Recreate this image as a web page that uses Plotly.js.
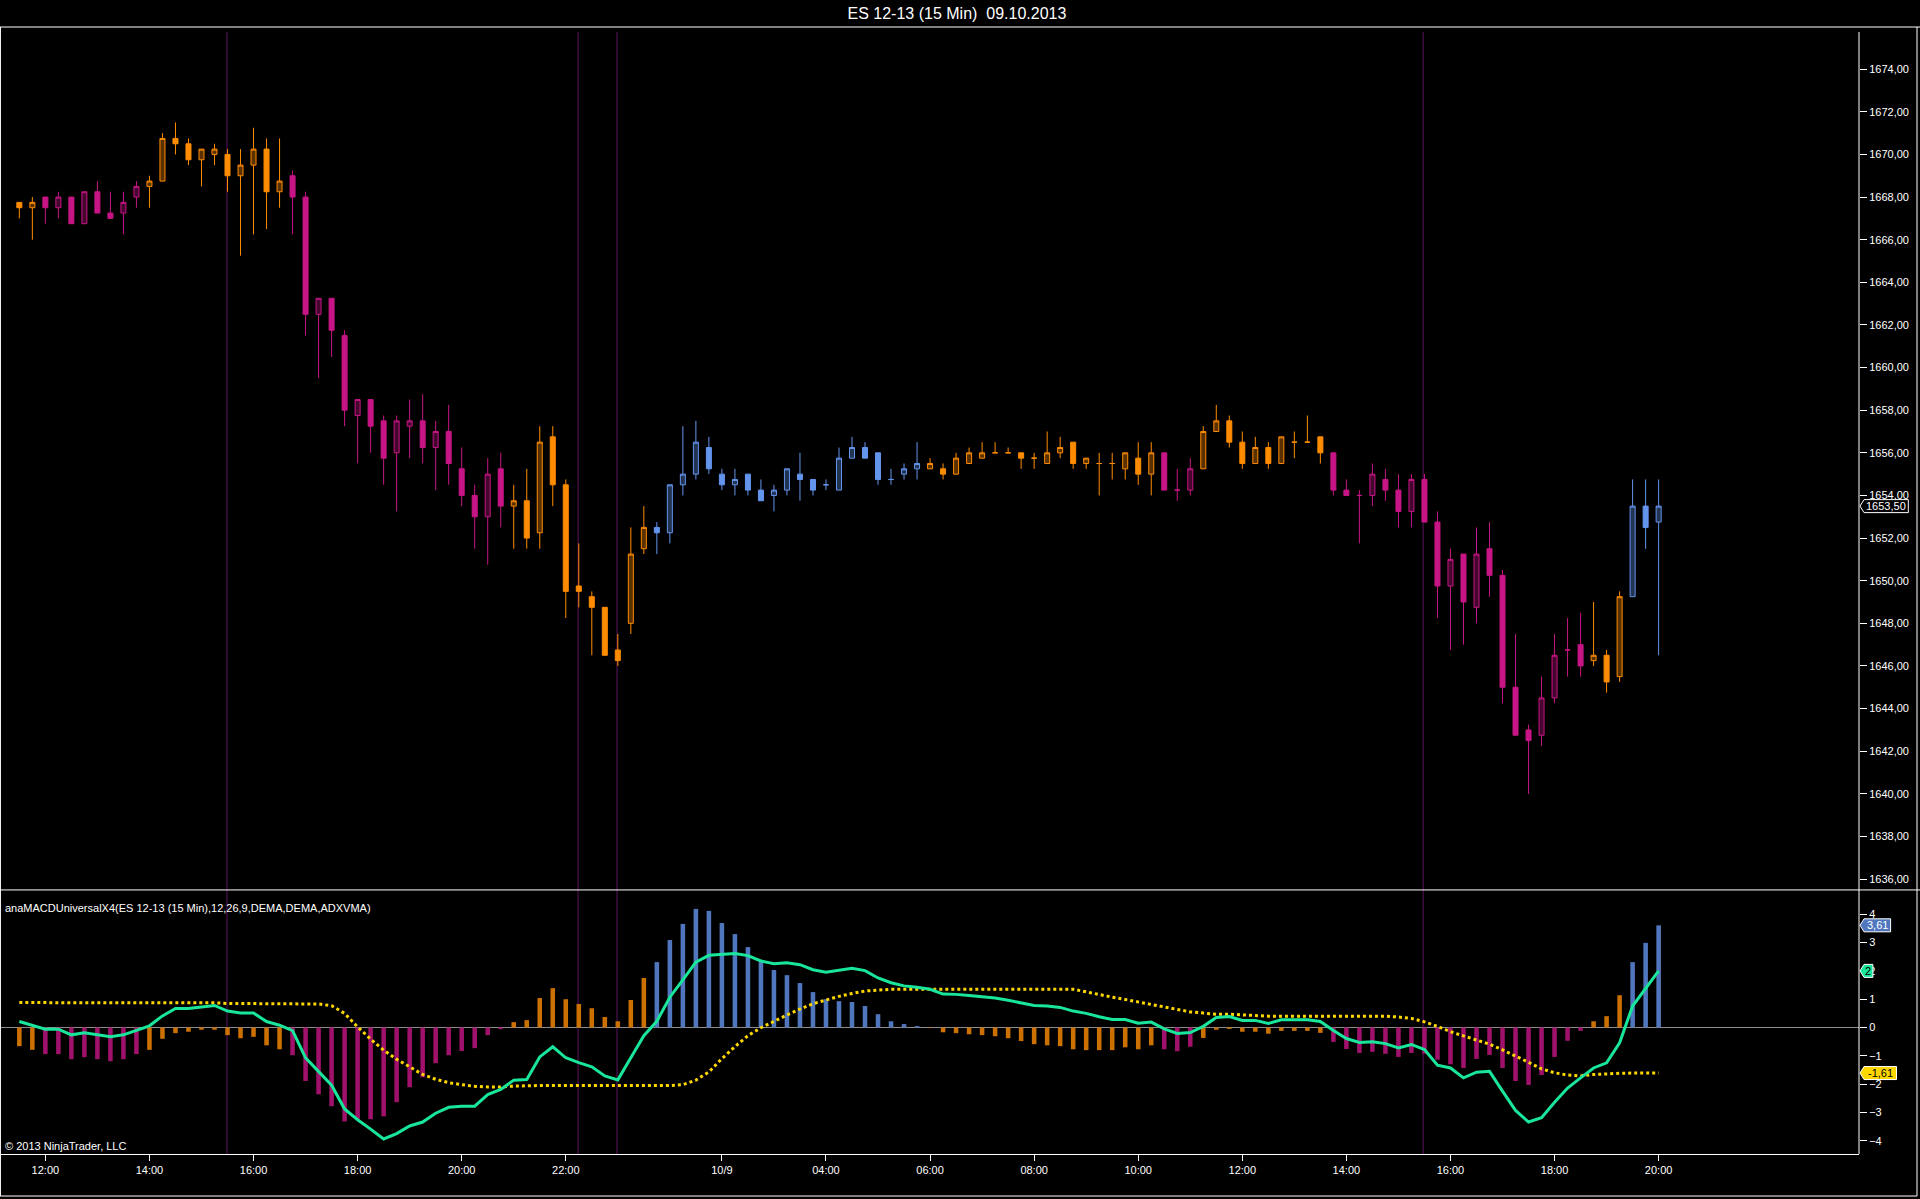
<!DOCTYPE html>
<html>
<head>
<meta charset="utf-8">
<script src="https://cdn.plot.ly/plotly-3.0.1.min.js"></script>
<style>
html,body{margin:0;padding:0;background:#000;}
#chart{width:1920px;height:1199px;}
</style>
</head>
<body>
<div id="chart"></div>
<script>
// ---------- DATA ----------
const chartTitle = 'ES 12-13 (15 Min)\u00a0 09.10.2013';
const indicatorLabel = 'anaMACDUniversalX4(ES 12-13 (15 Min),12,26,9,DEMA,DEMA,ADXVMA)';
const copyrightText = '\u00a9 2013 NinjaTrader, LLC';

// x tick labels (bar index -> label)
const tickIdx = [2,10,18,26,34,42,54,62,70,78,86,94,102,110,118,126];
const tickText = ['12:00','14:00','16:00','18:00','20:00','22:00','10/9','04:00','06:00','08:00','10:00','12:00','14:00','16:00','18:00','20:00'];

// session separator lines (bar index)
const sessionBreaks = [15.96, 42.95, 45.94, 107.9];

const barOpen = [
 1667.75,1667.5,1668.0,1667.5,1668.0,1666.75,1668.25,1667.25,1667.25,1668.0,
 1668.5,1668.75,1670.75,1670.5,1669.75,1670.0,1670.0,1669.0,1669.5,1670.25,
 1668.25,1669.0,1668.0,1662.5,1663.25,1661.5,1657.75,1658.5,1657.5,1656.0,
 1657.25,1657.5,1656.25,1657.0,1655.25,1654.0,1653.0,1655.25,1653.5,1653.75,
 1652.25,1656.75,1654.5,1649.75,1649.25,1648.75,1646.75,1648.0,1651.5,1652.5,
 1652.25,1654.5,1655.0,1656.25,1655.0,1654.5,1655.0,1654.25,1654.0,1654.25,
 1655.0,1654.75,1654.5,1654.25,1655.75,1656.25,1656.0,1654.75,1655.0,1655.25,
 1655.25,1655.25,1655.0,1655.5,1655.75,1656.0,1656.0,1656.0,1655.75,1655.5,
 1656.0,1656.5,1655.5,1655.5,1655.5,1655.25,1655.75,1655.0,1656.0,1654.25,
 1654.25,1655.25,1657.0,1657.5,1656.5,1655.5,1656.25,1655.5,1656.5,1656.5,
 1656.75,1656.0,1654.25,1654.0,1654.0,1654.75,1654.25,1653.25,1654.75,1652.75,
 1649.75,1651.25,1648.75,1651.5,1650.25,1645.0,1643.0,1642.75,1644.5,1646.75,
 1647.0,1646.25,1646.5,1645.5,1649.25,1653.5,1652.75
];
const barHigh = [
 1667.75,1668.0,1668.0,1668.25,1668.0,1668.25,1668.75,1668.25,1668.25,1668.75,
 1669.0,1671.0,1671.5,1670.75,1670.25,1670.5,1670.25,1670.25,1671.25,1670.75,
 1670.75,1669.25,1668.25,1663.25,1663.25,1661.75,1658.5,1658.5,1657.75,1657.75,
 1658.5,1658.75,1657.5,1658.25,1656.25,1654.5,1655.75,1656.0,1654.5,1655.25,
 1657.25,1657.25,1654.75,1651.75,1649.5,1648.75,1647.5,1652.5,1653.5,1652.75,
 1654.5,1657.25,1657.5,1656.75,1655.25,1655.25,1655.0,1654.75,1654.5,1655.25,
 1656.0,1654.75,1654.75,1656.25,1656.75,1656.5,1656.0,1655.25,1655.5,1656.5,
 1655.75,1655.5,1656.0,1656.25,1656.5,1656.5,1656.25,1656.0,1656.0,1657.0,
 1656.75,1656.5,1655.75,1656.0,1656.0,1656.0,1656.5,1656.5,1656.0,1655.25,
 1655.75,1657.25,1658.25,1657.75,1657.0,1656.75,1656.5,1656.75,1657.0,1657.75,
 1656.75,1656.0,1654.75,1654.25,1655.5,1655.25,1655.0,1655.0,1655.0,1653.25,
 1651.5,1651.25,1652.5,1652.75,1650.5,1647.5,1643.25,1645.5,1647.5,1648.25,
 1648.5,1649.0,1646.75,1649.5,1654.75,1654.75,1654.75
];
const barLow = [
 1667.0,1666.0,1666.75,1667.0,1666.75,1666.75,1667.25,1667.0,1666.25,1667.5,
 1667.5,1668.75,1670.0,1669.5,1668.5,1669.5,1668.25,1665.25,1666.25,1666.5,
 1667.5,1666.25,1661.5,1659.5,1660.5,1657.25,1655.5,1656.0,1654.5,1653.25,
 1655.75,1655.5,1654.25,1654.5,1653.5,1651.5,1650.75,1652.5,1651.5,1651.5,
 1651.5,1653.5,1648.25,1648.75,1646.5,1646.5,1646.0,1647.5,1651.25,1651.25,
 1651.75,1654.0,1654.75,1655.0,1654.25,1654.0,1654.0,1653.75,1653.25,1654.0,
 1653.75,1654.0,1654.25,1654.25,1655.75,1655.75,1654.5,1654.5,1654.75,1654.75,
 1655.25,1654.75,1655.0,1655.5,1655.75,1656.0,1656.0,1655.25,1655.25,1655.5,
 1655.75,1655.25,1655.25,1654.0,1654.75,1654.75,1654.5,1654.0,1654.25,1653.75,
 1654.0,1655.25,1657.0,1656.25,1655.25,1655.5,1655.25,1655.5,1655.75,1656.5,
 1655.5,1654.0,1654.0,1651.75,1653.5,1653.75,1652.5,1652.5,1652.75,1648.25,
 1646.75,1647.0,1648.0,1649.25,1644.25,1642.75,1640.0,1642.25,1644.25,1645.5,
 1645.5,1646.0,1644.75,1645.25,1649.25,1651.5,1646.5
];
const barClose = [
 1667.5,1667.75,1667.5,1668.0,1666.75,1668.25,1667.25,1667.0,1667.75,1668.5,
 1668.75,1670.75,1670.5,1669.75,1670.25,1670.25,1669.0,1669.5,1670.25,1668.25,
 1668.75,1668.0,1662.5,1663.25,1661.75,1658.0,1658.5,1657.25,1655.75,1657.5,
 1657.5,1656.25,1657.0,1655.5,1654.0,1653.0,1655.0,1653.5,1653.75,1652.0,
 1656.5,1654.5,1649.5,1649.5,1648.75,1646.5,1646.25,1651.25,1652.5,1652.25,
 1654.5,1655.0,1656.5,1655.25,1654.5,1654.75,1654.25,1653.75,1654.25,1655.25,
 1654.75,1654.25,1654.5,1655.75,1656.25,1655.75,1654.75,1654.75,1655.25,1655.5,
 1655.5,1655.0,1655.75,1656.0,1656.0,1656.0,1656.0,1655.75,1655.75,1656.0,
 1656.25,1655.5,1655.75,1655.5,1655.5,1656.0,1655.0,1656.0,1654.25,1654.25,
 1655.25,1657.0,1657.5,1656.5,1655.5,1656.25,1655.5,1656.75,1656.5,1656.5,
 1656.0,1654.25,1654.0,1654.0,1655.0,1654.25,1653.25,1654.75,1652.75,1649.75,
 1651.0,1649.0,1651.25,1650.25,1645.0,1642.75,1642.5,1644.5,1646.5,1646.75,
 1646.0,1646.5,1645.25,1649.25,1653.5,1652.5,1653.5
];
// trend colour state per bar: o = orange, m = magenta, b = blue
const barColor = [
 'o','o','m','m','m','m','m','m','m','m',
 'o','o','o','o','o','o','o','o','o','o',
 'o','m','m','m','m','m','m','m','m','m',
 'm','m','m','m','m','m','m','m','o','o',
 'o','o','o','o','o','o','o','o','o','b',
 'b','b','b','b','b','b','b','b','b','b',
 'b','b','b','b','b','b','b','b','b','b',
 'o','o','o','o','o','o','o','o','o','o',
 'o','o','o','o','o','o','o','o','m','m',
 'm','o','o','o','o','o','o','o','o','o',
 'o','m','m','m','m','m','m','m','m','m',
 'm','m','m','m','m','m','m','m','m','m',
 'm','o','o','o','b','b','b'
];
const macdHist = [
 -0.66,-0.79,-0.94,-0.94,-1.12,-1.05,-1.12,-1.19,-1.12,-0.94,
 -0.79,-0.40,-0.20,-0.15,-0.08,-0.08,-0.27,-0.38,-0.33,-0.63,
 -0.77,-0.98,-1.89,-2.36,-2.78,-3.32,-3.24,-3.24,-3.14,-2.64,
 -2.11,-1.76,-1.26,-0.98,-0.83,-0.73,-0.27,-0.06,0.19,0.26,
 1.04,1.39,1.00,0.83,0.68,0.37,0.22,0.97,1.75,2.31,
 3.09,3.66,4.19,4.12,3.69,3.30,2.84,2.31,2.03,1.85,
 1.57,1.25,1.00,0.93,0.90,0.76,0.47,0.22,0.12,0.05,
 -0.02,-0.17,-0.20,-0.24,-0.27,-0.31,-0.38,-0.48,-0.59,-0.63,
 -0.66,-0.77,-0.80,-0.80,-0.80,-0.70,-0.77,-0.63,-0.77,-0.84,
 -0.68,-0.37,-0.08,-0.05,-0.15,-0.15,-0.22,-0.12,-0.12,-0.12,
 -0.19,-0.51,-0.76,-0.90,-0.86,-0.93,-1.04,-0.90,-0.93,-1.14,
 -1.30,-1.43,-1.11,-0.97,-1.43,-1.89,-2.03,-1.68,-1.04,-0.47,
 -0.12,0.22,0.40,1.14,2.31,2.99,3.61
];
const macdLine = [
 0.21,0.08,-0.06,-0.06,-0.26,-0.19,-0.26,-0.33,-0.26,-0.11,
 0.06,0.41,0.67,0.67,0.73,0.78,0.58,0.51,0.51,0.21,
 0.08,-0.11,-1.07,-1.55,-2.04,-2.88,-3.26,-3.59,-3.94,-3.75,
 -3.48,-3.34,-3.03,-2.82,-2.78,-2.78,-2.37,-2.19,-1.86,-1.84,
 -1.04,-0.68,-1.07,-1.24,-1.39,-1.71,-1.85,-1.07,-0.29,0.22,
 1.07,1.68,2.31,2.55,2.57,2.61,2.54,2.35,2.25,2.29,
 2.22,2.04,1.95,2.02,2.09,2.01,1.75,1.58,1.47,1.42,
 1.35,1.18,1.17,1.13,1.09,1.04,0.96,0.86,0.78,0.76,
 0.71,0.58,0.50,0.38,0.28,0.28,0.15,0.19,-0.05,-0.21,
 -0.18,0.04,0.35,0.39,0.25,0.25,0.14,0.27,0.27,0.27,
 0.21,-0.11,-0.39,-0.53,-0.50,-0.57,-0.72,-0.60,-0.78,-1.33,
 -1.43,-1.78,-1.58,-1.55,-2.25,-2.93,-3.34,-3.19,-2.64,-2.14,
 -1.78,-1.43,-1.25,-0.54,0.76,1.36,2.00
];
const signalLine = [
 0.88,0.88,0.88,0.88,0.88,0.88,0.88,0.88,0.88,0.88,
 0.87,0.87,0.87,0.87,0.87,0.87,0.85,0.85,0.85,0.85,
 0.85,0.85,0.85,0.83,0.77,0.50,0.02,-0.41,-0.80,-1.12,
 -1.39,-1.66,-1.83,-1.95,-2.02,-2.08,-2.10,-2.10,-2.07,-2.05,
 -2.05,-2.05,-2.05,-2.05,-2.05,-2.05,-2.05,-2.05,-2.05,-2.05,
 -2.05,-2.02,-1.86,-1.57,-1.10,-0.68,-0.29,-0.01,0.22,0.44,
 0.65,0.84,0.97,1.10,1.20,1.29,1.32,1.35,1.35,1.35,
 1.35,1.35,1.35,1.35,1.35,1.35,1.35,1.35,1.35,1.35,
 1.35,1.35,1.26,1.16,1.07,0.99,0.90,0.80,0.72,0.63,
 0.55,0.51,0.47,0.47,0.45,0.41,0.40,0.40,0.40,0.40,
 0.40,0.40,0.40,0.40,0.40,0.40,0.37,0.32,0.20,0.04,
 -0.15,-0.29,-0.45,-0.59,-0.79,-1.00,-1.23,-1.46,-1.60,-1.68,
 -1.71,-1.66,-1.63,-1.62,-1.61,-1.61,-1.61
];

// ---------- STYLE ----------
const palette = {
  o: {line:'#ff8c00', hollow:'#593100', hist:'#cc7000'},
  m: {line:'#c71585', hollow:'#46072f', hist:'#9f116a'},
  b: {line:'#6495ed', hollow:'#233453', hist:'#5077be'}
};
const FONT = '"Liberation Sans", Arial, Helvetica, sans-serif';
const idx = barOpen.map((_, i) => i);

const traces = [];
['o','m','b'].forEach(k => {
  const sel = idx.filter(i => barColor[i] === k);
  traces.push({
    type:'candlestick', xaxis:'x', yaxis:'y',
    x: sel,
    open: sel.map(i => barOpen[i]),
    high: sel.map(i => barHigh[i]),
    low: sel.map(i => barLow[i]),
    close: sel.map(i => barClose[i]),
    increasing: {line:{color:palette[k].line, width:1}, fillcolor:palette[k].hollow},
    decreasing: {line:{color:palette[k].line, width:1}, fillcolor:palette[k].line},
    whiskerwidth: 0,
    hoverinfo: 'skip'
  });
});
traces.push({
  type:'bar', xaxis:'x', yaxis:'y2',
  x: idx, y: macdHist, width: 0.35,
  marker: {color: barColor.map(k => palette[k].hist), line:{width:0}},
  hoverinfo:'skip'
});
traces.push({
  type:'scatter', mode:'lines', xaxis:'x', yaxis:'y2',
  x: idx, y: signalLine,
  line: {color:'#ffd700', width:3, dash:'dot'},
  hoverinfo:'skip'
});
traces.push({
  type:'scatter', mode:'lines', xaxis:'x', yaxis:'y2',
  x: idx, y: macdLine,
  line: {color:'#19e69b', width:3},
  hoverinfo:'skip'
});

function fmt(v, keepZeros) {
  let s = v.toFixed(2).replace('.', ',');
  if (!keepZeros && s.endsWith(',00')) s = s.slice(0, -3);
  return s;
}
const last = barClose.length - 1;

// geometry
const W = 1920, H = 1199, M = {l:1, r:61, t:27, b:45};
const plotW = W - M.l - M.r, plotH = H - M.t - M.b;
const splitY = 0.2343;
const priceRange = [1635.49, 1675.98];
const indRange = [-4.47, 4.86];
const pxPerPrice = plotH * (1 - splitY) / (priceRange[1] - priceRange[0]);
const pxPerInd = plotH * splitY / (indRange[1] - indRange[0]);
const px2paperX = p => p / plotW;
const px2paperY = p => p / plotH;

const shapes = [];
sessionBreaks.forEach(s => shapes.push({
  type:'line', xref:'x', yref:'paper', x0:s, x1:s, y0:0, y1:1 - px2paperY(5),
  line:{color:'#3f0d40', width:1.5}, layer:'below'
}));
// frame lines
const frame = (x0,y0,x1,y1) => ({type:'line', xref:'paper', yref:'paper', x0, y0, x1, y1, line:{color:'#ffffff', width:1}, layer:'above'});
const rightEdge = 1 + px2paperX(W - 3 - (W - M.r));
const bottomEdge = -px2paperY(M.b - 3);
shapes.push(frame(-0.001, 1, 1.04, 1));
shapes.push(frame(-0.001, splitY, 1.04, splitY));
shapes.push(frame(-0.0003, bottomEdge, -0.0003, 1));
shapes.push(frame(rightEdge, bottomEdge, rightEdge, 1));
shapes.push(frame(-0.001, bottomEdge, rightEdge, bottomEdge));
// right value axis line (starts a little below the top frame)
shapes.push(frame(1, 0, 1, 1 - px2paperY(5)));

const annotations = [
  {xref:'paper', yref:'paper', x:0.001, y:0.2183, xanchor:'left', yanchor:'middle', showarrow:false,
   text:indicatorLabel, font:{family:FONT, size:11, color:'#ffffff'}},
  {xref:'paper', yref:'paper', x:0.001, y:0.0068, xanchor:'left', yanchor:'middle', showarrow:false,
   text:copyrightText, font:{family:FONT, size:11, color:'#ffffff'}}
];

// value tags (pointed boxes at the right axis)
function addTag(v, yref, text, bg, fg) {
  const ppu = yref === 'y' ? pxPerPrice : pxPerInd;
  const hh = 6.5 / ppu;
  const wpx = 8 + 5.9 * text.length;
  const xa = 1 + px2paperX(1), xb = 1 + px2paperX(5), xc = 1 + px2paperX(wpx);
  shapes.push({
    type:'path', xref:'paper', yref,
    path:`M ${xa} ${v} L ${xb} ${v + hh} L ${xc} ${v + hh} L ${xc} ${v - hh} L ${xb} ${v - hh} Z`,
    fillcolor:bg, line:{color:'#ffffff', width:1}, layer:'above'
  });
  annotations.push({
    xref:'paper', yref, x:(xb + xc) / 2, xanchor:'center', y:v, yanchor:'middle',
    text, showarrow:false, font:{family:FONT, size:11, color:fg}
  });
}
addTag(barClose[last], 'y', fmt(barClose[last], true), '#000000', '#ffffff');
addTag(macdHist[last], 'y2', fmt(macdHist[last]), palette.b.hist, '#ffffff');
addTag(macdLine[last], 'y2', fmt(macdLine[last]), '#19e69b', '#000000');
addTag(signalLine[last], 'y2', fmt(signalLine[last]), '#ffd700', '#000000');

const layout = {
  width:W, height:H,
  paper_bgcolor:'#000000', plot_bgcolor:'#000000',
  margin:{l:M.l, r:M.r, t:M.t, b:M.b, pad:0},
  separators:',.',
  showlegend:false, hovermode:false, dragmode:false,
  font:{family:FONT, color:'#ffffff', size:11},
  title:{text:chartTitle, font:{family:FONT, size:16, color:'#ffffff'},
         xref:'container', x:0.4984, xanchor:'center',
         yref:'container', y:1 - 13/1199, yanchor:'middle'},
  boxgap:0.45, boxgroupgap:0.3,
  xaxis:{
    anchor:'y2', range:[-1.41, 141.4],
    tickmode:'array', tickvals:tickIdx, ticktext:tickText,
    ticks:'outside', ticklen:6, tickcolor:'#ffffff', tickwidth:1,
    showline:true, linecolor:'#ffffff', linewidth:1,
    showgrid:false, zeroline:false,
    tickfont:{family:FONT, size:11, color:'#ffffff'},
    rangeslider:{visible:false}, fixedrange:true
  },
  yaxis:{
    domain:[splitY, 1], anchor:'x', side:'right',
    range:priceRange, tick0:1636, dtick:2, tickformat:'.2f',
    ticks:'outside', ticklen:7, tickcolor:'#ffffff',
    showline:false,
    showgrid:false, zeroline:false,
    tickfont:{family:FONT, size:11, color:'#ffffff'}, fixedrange:true
  },
  yaxis2:{
    domain:[0, splitY], anchor:'x', side:'right',
    range:indRange, tick0:0, dtick:1,
    ticks:'outside', ticklen:7, tickcolor:'#ffffff',
    showline:false,
    showgrid:false, zeroline:true, zerolinecolor:'#8c8c8c', zerolinewidth:1,
    tickfont:{family:FONT, size:11, color:'#ffffff'}, fixedrange:true
  },
  shapes, annotations
};

Plotly.newPlot('chart', traces, layout, {staticPlot:true, displayModeBar:false});
</script>
</body>
</html>
